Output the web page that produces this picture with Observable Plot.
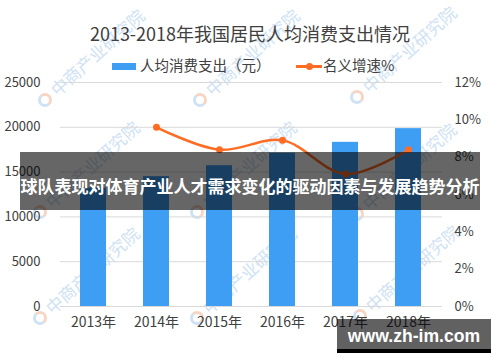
<!DOCTYPE html>
<html><head><meta charset="utf-8">
<script src="https://cdn.jsdelivr.net/npm/d3@7"></script>
<script src="https://cdn.jsdelivr.net/npm/@observablehq/plot@0.6"></script>
<style>
body{margin:0;background:#fff;}
#wrap{position:relative;width:500px;height:362px;overflow:hidden;font-family:"Noto Sans CJK SC",sans-serif;background:#fff;}
#chart{position:absolute;left:0;top:0;z-index:1;}
.wm{position:absolute;z-index:0;color:#cfe2f3;font-size:17px;white-space:nowrap;transform-origin:0 50%;transform:rotate(-42deg);line-height:20px;}
.logo{position:absolute;z-index:0;width:8px;height:8px;border-radius:50%;border:3px solid #cfe2f3;border-right-color:#f7d5c4;border-top-color:#f7d5c4;}
#title{position:absolute;left:0;top:21px;width:500px;text-align:center;font-size:18px;line-height:24px;color:#404040;z-index:2;}
.lg{position:absolute;z-index:2;font-size:14.5px;line-height:18px;color:#404040;white-space:nowrap;}
#banner{position:absolute;left:20px;top:152px;width:460px;height:58px;background:rgba(0,0,0,0.6);z-index:3;color:#fff;font-weight:700;font-size:17px;line-height:24px;text-align:center;white-space:nowrap;box-sizing:border-box;padding-top:22px;letter-spacing:0;}
#site{position:absolute;left:337px;top:319px;width:154px;height:30px;background:rgba(0,0,0,0.62);border-bottom:4px solid #000;z-index:4;color:#fff;font-family:"Liberation Sans",Arial,sans-serif;font-weight:700;font-size:17.6px;line-height:34px;text-align:center;}
</style></head><body>
<div id="wrap">
  <div id="title">2013-2018年我国居民人均消费支出情况</div>
  <div class="lg" style="left:112px;top:63px;width:24px;height:7px;background:#3E9EF3;"></div>
  <div class="lg" style="left:140px;top:56px;">人均消费支出（元）</div>
  <div class="lg" style="left:296px;top:65px;width:26px;height:2.5px;background:#FF6D24;"></div>
  <div class="lg" style="left:305.5px;top:62.5px;width:7px;height:7px;border-radius:50%;background:#FF6D24;"></div>
  <div class="lg" style="left:323px;top:56px;">名义增速%</div>
  <div id="banner">球队表现对体育产业人才需求变化的驱动因素与发展趋势分析</div>
  <div id="site">www.zh-im.com</div>
</div>
<script>
const years = ["2013年","2014年","2015年","2016年","2017年","2018年"];
const spending = [13220, 14491, 15712, 17111, 18322, 19853];
const growthYears = ["2014年","2015年","2016年","2017年","2018年"];
const growth = [9.6, 8.4, 8.9, 7.1, 8.4];
const leftTicks = [0, 5000, 10000, 15000, 20000, 25000];
const rightTicks = [0, 2, 4, 6, 8, 10, 12];

const wrap = document.getElementById("wrap");
// faint background watermarks
const wmSpots = [[45,100],[200,100],[357,97],[40,212],[197,212],[357,214],[40,318],[197,318],[360,316]];
for (const [x,y] of wmSpots) {
  const l = document.createElement("div");
  l.className = "logo"; l.style.left = (x-7)+"px"; l.style.top = (y-7)+"px";
  wrap.appendChild(l);
  const t = document.createElement("div");
  t.className = "wm"; t.textContent = "中商产业研究院";
  t.style.left = (x+8)+"px"; t.style.top = (y-18)+"px";
  wrap.appendChild(t);
}

const k = 25000 / 12;
const bars = years.map((y, i) => ({year: y, value: spending[i]}));
const pts = growthYears.map((y, i) => ({year: y, pct: growth[i]}));

const chart = Plot.plot({
  width: 500, height: 362,
  marginTop: 82, marginBottom: 56, marginLeft: 60, marginRight: 58,
  style: {background: "transparent", fontFamily: "Noto Sans CJK SC, sans-serif", fontSize: "13px", color: "#404040"},
  x: {domain: years, paddingInner: 0.58, paddingOuter: 0.29, label: null},
  y: {domain: [0, 25000], label: null},
  marks: [
    Plot.ruleY(leftTicks, {stroke: "#d9d9d9", strokeWidth: 1}),
    Plot.barY(bars, {x: "year", y: "value", fill: "#3E9EF3"}),
    Plot.line(pts, {x: "year", y: d => d.pct * k, stroke: "#FF6D24", strokeWidth: 2.5, curve: "catmull-rom"}),
    Plot.dot(pts, {x: "year", y: d => d.pct * k, fill: "#FF6D24", r: 3.5}),
    Plot.axisY(leftTicks, {anchor: "left", tickSize: 0, tickPadding: 20, label: null, tickFormat: d => String(d), fontSize: 13}),
    Plot.axisY(rightTicks.map(p => p * k), {anchor: "right", tickSize: 0, tickPadding: 12, label: null, tickFormat: d => Math.round(d / k) + "%", fontSize: 13}),
    Plot.axisX({tickSize: 0, tickPadding: 11, label: null, fontSize: 14})
  ]
});
chart.id = "chart";
wrap.appendChild(chart);
</script>
</body></html>
